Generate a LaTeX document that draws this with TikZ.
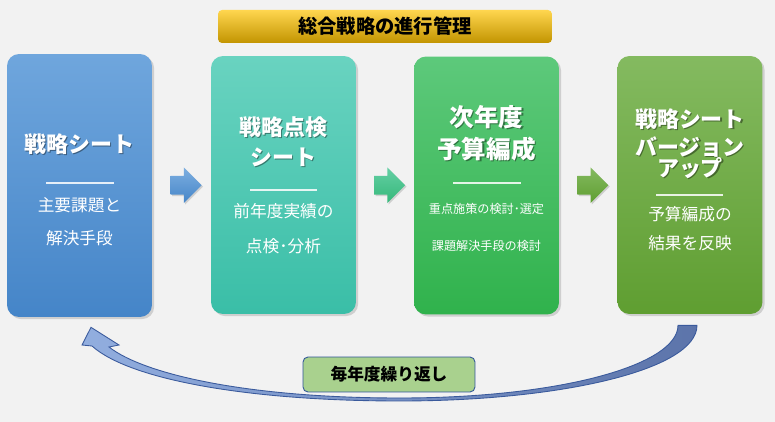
\documentclass[tikz,border=0pt]{standalone}
\usepackage{fontspec}
\setmainfont{Noto Sans CJK JP}
\usetikzlibrary{shapes.arrows,shadows,calc}

\definecolor{bggray}{HTML}{F2F2F2}
\definecolor{bantop}{HTML}{FFD64F}
\definecolor{banbot}{HTML}{C29400}
\definecolor{blutop}{HTML}{6FA6DD}
\definecolor{blubot}{HTML}{4585C8}
\definecolor{teatop}{HTML}{69D3C0}
\definecolor{teabot}{HTML}{3ABEA7}
\definecolor{grntop}{HTML}{5DC97B}
\definecolor{grnbot}{HTML}{30B24C}
\definecolor{olvtop}{HTML}{84BA60}
\definecolor{olvbot}{HTML}{5F9E31}
\definecolor{loopbrd}{HTML}{3A5A9C}
\definecolor{looplt}{HTML}{92AEDF}
\definecolor{loopdk}{HTML}{5C74AA}
\definecolor{lblgrn}{HTML}{A9D18E}
\definecolor{lblbrd}{HTML}{2F5597}

\tikzset{
  sheet/.style={rectangle, rounded corners=0.24cm, minimum width=2.9cm,
    minimum height=5.16cm, inner sep=0pt,
    drop shadow={shadow xshift=1.2pt, shadow yshift=-1.2pt, opacity=0.3}},
  ttl/.style={text=white, font=\bfseries\fontsize{12.5}{14}\selectfont, inner sep=0pt},
  bigttl/.style={font=\bfseries\fontsize{14}{16}\selectfont},
  ttlsh/.style={ttl, text=black, opacity=0.4},
  subtxt/.style={text=white, font=\fontsize{9.5}{11}\selectfont, inner sep=0pt},
  smalltxt/.style={text=white, font=\fontsize{6.9}{8}\selectfont, inner sep=0pt},
  sepline/.style={white, opacity=0.85, line width=0.6pt},
  nextarrow/.style={single arrow, minimum height=0.62cm,
    single arrow head extend=0.17cm, inner xsep=0pt, inner ysep=0.18cm,
    text height=0pt, text depth=0pt,
    drop shadow={shadow xshift=0.8pt, shadow yshift=-0.8pt, opacity=0.3}},
}

% white title with a dark copy behind it
\newcommand{\ttlnode}[4][]{%
  \node[ttlsh,#1] (#2-sh) at ($(#3)+(1.2,1.2)$) {#4};
  \node[ttl,#1] (#2) at (#3) {#4};}

\begin{document}
\begin{tikzpicture}[x=0.02cm, y=-0.02cm]

  \fill[bggray] (0,0) rectangle (775,422);
  \useasboundingbox (0,0) rectangle (775,422);

  % banner
  \node[rectangle, rounded corners=0.08cm, minimum width=6.68cm, minimum height=0.66cm,
    top color=bantop, bottom color=banbot, inner sep=0pt,
    font=\bfseries\fontsize{11}{13}\selectfont] (banner) at (385,26.5) {総合戦略の進行管理};

  % the four sheets
  \node[sheet, minimum height=5.26cm, top color=blutop, bottom color=blubot] (sheet1) at (79.5,185.5) {};
  \node[sheet, top color=teatop, bottom color=teabot] (sheet2) at (283.5,185) {};
  \node[sheet, top color=grntop, bottom color=grnbot] (sheet3) at (486.5,185.5) {};
  \node[sheet, top color=olvtop, bottom color=olvbot] (sheet4) at (690,185) {};

  % arrows between the sheets
  \node[nextarrow, top color=blutop!90!white, bottom color=blubot] (arr1) at ($(sheet1.east)!0.5!(sheet2.west)$) {};
  \node[nextarrow, top color=teatop!60!grntop, bottom color=teabot!50!grnbot] (arr2) at ($(sheet2.east)!0.5!(sheet3.west)$) {};
  \node[nextarrow, top color=olvtop, bottom color=olvbot] (arr3) at ($(sheet3.east)!0.5!(sheet4.west)$) {};

  % sheet 1
  \ttlnode{t1a}{79.5,144}{戦略シート}
  \draw[sepline] (46,183) -- (114,183);
  \node[subtxt] (s1a) at (79.5,205) {主要課題と};
  \node[subtxt] (s1b) at (79.5,238) {解決手段};

  % sheet 2
  \ttlnode{t2a}{283.5,127}{戦略点検}
  \ttlnode{t2b}{283.5,157}{シート}
  \draw[sepline] (250,190) -- (317,190);
  \node[subtxt] (s2a) at (283.5,211) {前年度実績の};
  \node[subtxt] (s2b) at (283.5,246) {点検･分析};

  % sheet 3
  \ttlnode[bigttl]{t3a}{486.5,117}{次年度}
  \ttlnode[bigttl]{t3b}{486.5,149}{予算編成}
  \draw[sepline] (453,183) -- (521,183);
  \node[smalltxt] (s3a) at (486.5,209) {重点施策の検討･選定};
  \node[smalltxt] (s3b) at (486.5,246) {課題解決手段の検討};

  % sheet 4
  \ttlnode{t4a}{690,119}{戦略シート}
  \ttlnode{t4b}{690,147}{バージョン}
  \ttlnode{t4c}{690,168}{アップ}
  \draw[sepline] (656,195) -- (723,195);
  \node[subtxt] (s4a) at (690,214) {予算編成の};
  \node[subtxt] (s4b) at (690,243) {結果を反映};

  % loop back from sheet 4 to sheet 1
  \coordinate (tailR) at ($(sheet4.south)+(7,11)$);
  \coordinate (tailL) at ($(sheet4.south)+(-12,11)$);
  \coordinate (tip) at ($(sheet1.south)+(11.5,10)$);
  \draw[loopbrd, line width=0.5pt, left color=looplt, right color=loopdk]
    (tailR) .. controls (697,370) and (560,401) .. (400,401)
    .. controls (250,401) and (130,380) .. (92,346)
    -- (82,345) -- (tip) -- (119,345) -- (109,347)
    .. controls (145,375) and (250,398) .. (400,398)
    .. controls (560,398) and (678,365) .. (tailL) -- cycle;

  \node[rectangle, rounded corners=0.1cm, minimum width=3.44cm, minimum height=0.7cm,
    fill=lblgrn, draw=lblbrd, line width=0.5pt, inner sep=0pt,
    font=\bfseries\fontsize{9.5}{11}\selectfont] (yearly) at (389,374.5) {毎年度繰り返し};

\end{tikzpicture}
\end{document}
